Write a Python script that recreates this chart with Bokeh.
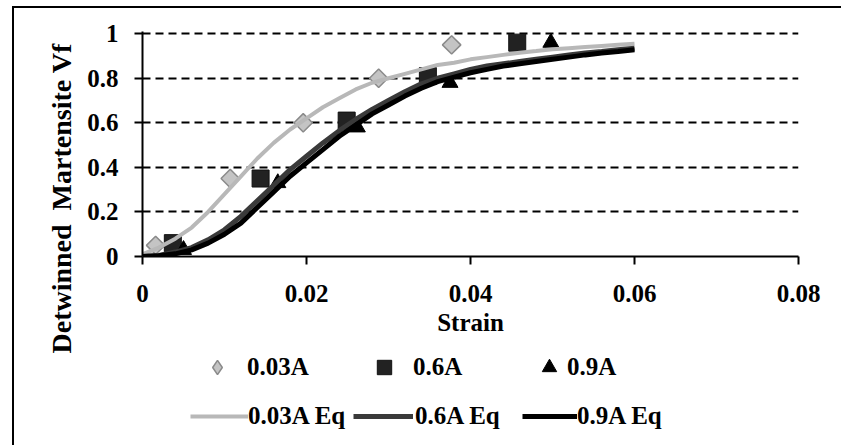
from bokeh.plotting import figure
from bokeh.layouts import column
from bokeh.models import FixedTicker, Legend, LegendItem, Title
from bokeh.embed import file_html
from bokeh.resources import INLINE

# Measured detwinned martensite volume fraction vs. strain
strain_003 = [0.0016, 0.0107, 0.0196, 0.0288, 0.0377]
vf_003 = [0.05, 0.35, 0.60, 0.80, 0.95]
strain_06 = [0.0037, 0.0144, 0.0249, 0.0348, 0.0457]
vf_06 = [0.06, 0.35, 0.61, 0.81, 0.96]
strain_09 = [0.0050, 0.0165, 0.0262, 0.0375, 0.0498]
vf_09 = [0.03, 0.33, 0.58, 0.78, 0.96]

# Fitted equation curves
eq_strain = [0.000, 0.002, 0.004, 0.006, 0.008, 0.010, 0.012, 0.014, 0.016, 0.018,
             0.020, 0.022, 0.024, 0.026, 0.028, 0.030, 0.032, 0.034, 0.036, 0.038,
             0.040, 0.042, 0.044, 0.046, 0.048, 0.050, 0.052, 0.054, 0.056, 0.058, 0.060]
eq_003 = [0.01, 0.04, 0.08, 0.13, 0.20, 0.28, 0.36, 0.44, 0.51, 0.57,
          0.62, 0.67, 0.71, 0.75, 0.78, 0.80, 0.82, 0.84, 0.86, 0.87,
          0.885, 0.895, 0.905, 0.915, 0.922, 0.93, 0.935, 0.94, 0.945, 0.95, 0.955]
eq_06 = [0.0, 0.005, 0.02, 0.04, 0.075, 0.12, 0.18, 0.25, 0.32, 0.39,
         0.45, 0.51, 0.565, 0.615, 0.66, 0.70, 0.74, 0.775, 0.80, 0.82,
         0.84, 0.855, 0.865, 0.875, 0.885, 0.895, 0.905, 0.913, 0.92, 0.928, 0.935]
eq_09 = [0.0, 0.003, 0.012, 0.03, 0.06, 0.10, 0.15, 0.22, 0.29, 0.36,
         0.42, 0.48, 0.54, 0.59, 0.64, 0.68, 0.72, 0.755, 0.785, 0.805,
         0.825, 0.84, 0.855, 0.865, 0.875, 0.885, 0.895, 0.905, 0.913, 0.92, 0.928]

x_ticks = [0, 0.02, 0.04, 0.06, 0.08]
x_tick_labels = ["0", "0.02", "0.04", "0.06", "0.08"]
y_ticks = [0, 0.2, 0.4, 0.6, 0.8, 1.0]
y_tick_labels = ["0", "0.2", "0.4", "0.6", "0.8", "1"]

FONT = "Liberation Serif"
TEXT_PX = "25px"

# series styles shared by the plot and the legend strip
diamond_style = dict(marker="square", angle=0.785398, size=13,
                     fill_color="#c4c4c4", line_color="#8a8a8a", line_width=1.5)
diamond_key_style = dict(marker="diamond", size=17,
                         fill_color="#c4c4c4", line_color="#8a8a8a", line_width=1.5)
square_style = dict(marker="square", size=17, fill_color="#222222", line_color="#111111")
triangle_style = dict(marker="triangle", size=16, fill_color="black", line_color="black")
eq003_style = dict(line_color="#b8b8b8", line_width=4)
eq06_style = dict(line_color="#3a3a3a", line_width=5)
eq09_style = dict(line_color="black", line_width=5)

p = figure(width=827, height=345, x_range=(0, 0.08), y_range=(0, 1.01),
           output_backend="svg", toolbar_location=None,
           min_border_left=128, min_border_right=43, min_border_top=23, min_border_bottom=97)
p.outline_line_color = None
p.background_fill_color = "white"
p.border_fill_color = "white"

for ax in (p.xaxis[0], p.yaxis[0]):
    ax.axis_line_width = 2
    ax.axis_line_color = "black"
    ax.major_tick_line_width = 2
    ax.major_tick_in = 0
    ax.major_tick_out = 8
    ax.minor_tick_line_color = None
    ax.major_label_text_font = FONT
    ax.major_label_text_font_style = "bold"
    ax.major_label_text_font_size = TEXT_PX
    ax.major_label_text_color = "black"

p.xaxis.ticker = FixedTicker(ticks=x_ticks)
p.xaxis.major_label_overrides = dict(zip(x_ticks, x_tick_labels))
p.xaxis.major_label_standoff = 20
p.xaxis.axis_label = "Strain"
p.xaxis.axis_label_text_font = FONT
p.xaxis.axis_label_text_font_style = "bold"
p.xaxis.axis_label_text_font_size = TEXT_PX
p.xaxis.axis_label_text_color = "black"
p.xaxis.axis_label_standoff = 4

p.yaxis.ticker = FixedTicker(ticks=y_ticks)
p.yaxis.major_label_overrides = dict(zip(y_ticks, y_tick_labels))
p.yaxis.major_label_standoff = 16

p.xgrid.grid_line_color = None
p.ygrid.grid_line_color = "black"
p.ygrid.grid_line_width = 2
p.ygrid.grid_line_dash = "8 5"

# vertical axis title, anchored low on the left side
p.add_layout(Title(text="Detwinned\u00a0\u00a0Martensite Vf", align="left", offset=-97,
                   text_font=FONT, text_font_style="bold", text_font_size="28px",
                   text_color="black", standoff=16), "left")

# measured points
p.scatter(strain_003, vf_003, **diamond_style)
p.scatter(strain_06, vf_06, **square_style)
p.scatter(strain_09, vf_09, **triangle_style)

# fitted curves
p.line(eq_strain, eq_003, **eq003_style)
p.line(eq_strain, eq_06, **eq06_style)
p.line(eq_strain, eq_09, **eq09_style)

# legend strip under the chart; the same series are attached here but
# the strip's ranges keep them out of view, so only the legend keys show
lg = figure(width=827, height=92, x_range=(10, 11), y_range=(10, 11),
            output_backend="svg", toolbar_location=None,
            min_border=0, min_border_left=0, min_border_right=0,
            min_border_top=0, min_border_bottom=0)
lg.axis.visible = False
lg.grid.visible = False
lg.outline_line_color = None
lg.background_fill_color = "white"
lg.border_fill_color = "white"

k_d = lg.scatter(strain_003, vf_003, **diamond_key_style)
k_s = lg.scatter(strain_06, vf_06, **square_style)
k_t = lg.scatter(strain_09, vf_09, **triangle_style)
k_1 = lg.line(eq_strain, eq_003, **eq003_style)
k_2 = lg.line(eq_strain, eq_06, **eq06_style)
k_3 = lg.line(eq_strain, eq_09, **eq09_style)


def add_entry(label, renderer, x, y, glyph_w, glyph_h, standoff):
    leg = Legend(items=[LegendItem(label=label, renderers=[renderer])],
                 location=(x, y), orientation="horizontal",
                 padding=0, margin=0, spacing=0,
                 glyph_width=glyph_w, glyph_height=glyph_h, label_height=20,
                 label_standoff=standoff,
                 label_text_font=FONT, label_text_font_style="bold",
                 label_text_font_size=TEXT_PX, label_text_color="black",
                 border_line_color=None, background_fill_alpha=0)
    lg.add_layout(leg, "center")


add_entry("0.03A", k_d, 57, 60, 36, 36, 12)
add_entry("0.6A", k_s, 224, 60, 36, 36, 11)
add_entry("0.9A", k_t, 389, 60, 36, 36, 0)
add_entry("0.03A Eq", k_1, 48, 15, 58, 20, 0)
add_entry("0.6A Eq", k_2, 211, 15, 60, 20, 2)
add_entry("0.9A Eq", k_3, 380, 15, 55, 20, 0)

page = column(p, lg, spacing=0)
page.styles = {"margin-left": "12px", "margin-top": "6px",
               "border-left": "2px solid black", "border-top": "2px solid black"}

open("out.html", "w").write(file_html(page, INLINE))
